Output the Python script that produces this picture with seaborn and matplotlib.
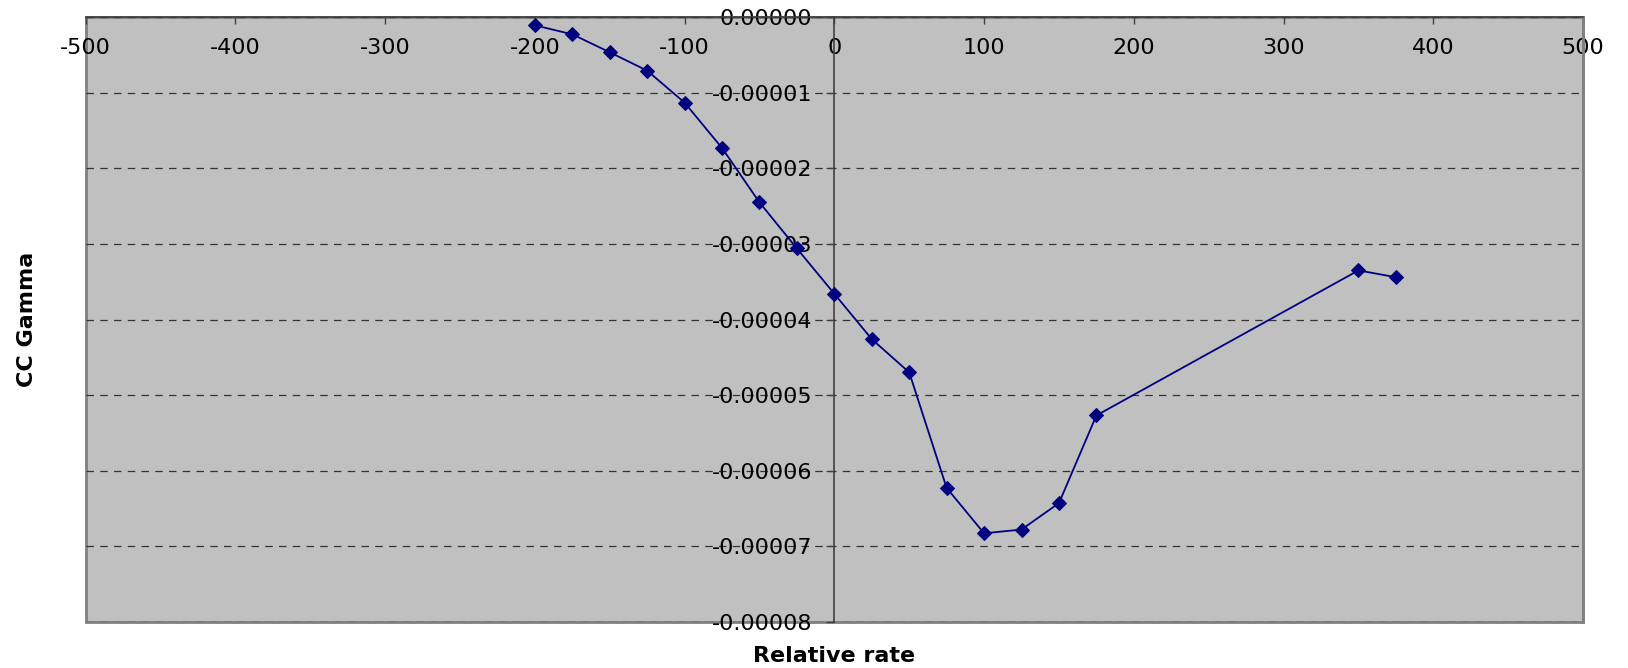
import matplotlib
matplotlib.use("Agg")
import matplotlib.pyplot as plt
import matplotlib.patches as mpatches
import seaborn as sns
import pandas as pd

# values
rates = [-200, -175, -150, -125, -100, -75, -50, -25, 0, 25, 50, 75, 100, 125, 150, 175, 350, 375]
gamma = [-1.06e-6, -2.25e-6, -4.63e-6, -7.06e-6, -1.13e-5, -1.73e-5, -2.45e-5, -3.06e-5,
         -3.66e-5, -4.26e-5, -4.70e-5, -6.23e-5, -6.83e-5, -6.78e-5, -6.43e-5, -5.27e-5,
         -3.35e-5, -3.44e-5]
x_ticks = [-500, -400, -300, -200, -100, 0, 100, 200, 300, 400, 500]
y_ticks = [0, -1e-5, -2e-5, -3e-5, -4e-5, -5e-5, -6e-5, -7e-5, -8e-5]

df = pd.DataFrame({"Relative rate": rates, "CC Gamma": gamma})

sns.set_style("white")
plt.rcParams["font.family"] = ["DejaVu Sans"]
plt.rcParams["axes.unicode_minus"] = False
plt.rcParams["text.color"] = "black"
plt.rcParams["axes.labelcolor"] = "black"
plt.rcParams["xtick.color"] = "black"
plt.rcParams["ytick.color"] = "black"

fig = plt.figure(figsize=(16.28, 6.68), dpi=100)
ax = fig.add_axes([0.0526, 0.0693, 0.9198, 0.9048])
ax.set_facecolor("#C0C0C0")

sns.lineplot(data=df, x="Relative rate", y="CC Gamma", sort=False, ax=ax,
             color="#000080", linewidth=1.3, marker="D", markersize=7.5,
             markeredgecolor="#000080", zorder=5)

ax.set_xlim(-500, 500)
ax.set_ylim(-8e-5, 0)
ax.set_xticks(x_ticks)
ax.set_xticklabels([str(v) for v in x_ticks])
ax.set_yticks(y_ticks)
ax.set_yticklabels([f"{abs(v):.5f}" if v == 0 else f"{v:.5f}" for v in y_ticks])

# dashed horizontal gridlines
ax.yaxis.grid(True, linestyle=(0, (6, 5)), color="#333333", linewidth=0.9)
ax.xaxis.grid(False)
ax.set_axisbelow(True)

# axes crossing at (0, 0), Excel style
ax.spines["left"].set_position(("data", 0))
ax.spines["bottom"].set_position(("data", 0))
ax.spines["top"].set_visible(False)
for s in ["left", "bottom"]:
    ax.spines[s].set_color("#404040")
    ax.spines[s].set_linewidth(1.2)
ax.spines["right"].set_color("#808080")
ax.spines["right"].set_linewidth(2)

# plot area border
ax.add_patch(mpatches.Rectangle((0, 0), 1, 1, transform=ax.transAxes, fill=False,
                                edgecolor="#808080", linewidth=2, zorder=0.5, clip_on=False))

ax.tick_params(axis="x", bottom=True, direction="out", length=5, width=1,
               color="#404040", labelcolor="black", labelsize=16, pad=10)
ax.tick_params(axis="y", left=True, direction="out", length=6, width=1,
               color="#404040", labelcolor="black", labelsize=16, pad=10)

ax.set_xlabel("Relative rate", fontsize=16, fontweight="bold", va="center", color="black")
ax.set_ylabel("CC Gamma", fontsize=16, fontweight="bold", va="center", color="black")
ax.xaxis.set_label_coords(0.5, -0.056)
ax.yaxis.set_label_coords(-0.039, 0.5)

plt.savefig("out.png", dpi=100)
plt.close()
